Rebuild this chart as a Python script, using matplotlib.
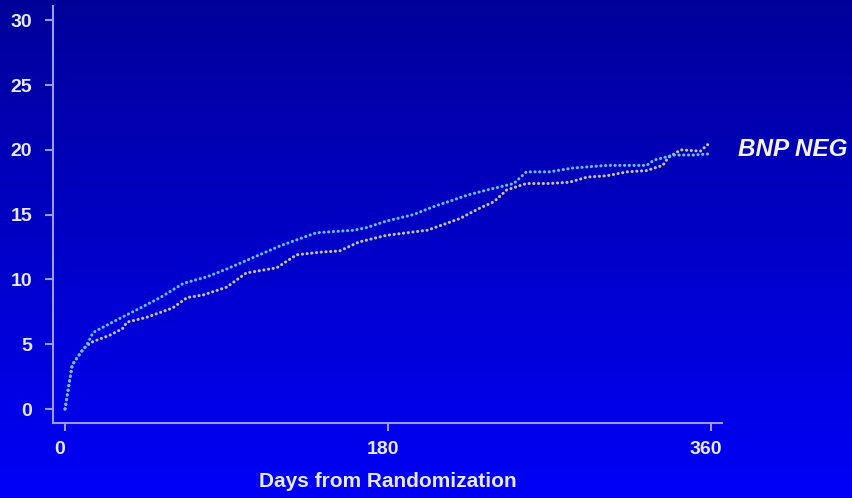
import numpy as np
import matplotlib
matplotlib.use("Agg")
import matplotlib.pyplot as plt
import matplotlib.transforms as mtransforms

plt.rcParams['font.family'] = ['Liberation Sans', 'DejaVu Sans']

# Cumulative event rate (%) by days from randomization
days_upper = [0, 4, 9.5, 12, 15.6, 21, 32, 42, 53, 66, 79, 90, 105, 120, 140, 161,
              168, 179, 194, 205, 224, 235, 250, 257, 270, 283, 302, 324, 328, 339, 350, 360]
rate_upper = [0, 3.4, 4.5, 4.9, 5.9, 6.3, 7.1, 7.8, 8.6, 9.7, 10.2, 10.8, 11.7, 12.6, 13.6, 13.8,
              14.0, 14.5, 15.0, 15.6, 16.5, 16.9, 17.4, 18.3, 18.3, 18.6, 18.8, 18.8, 19.2, 19.6, 19.6, 19.7]

days_lower = [0, 4, 9.5, 12, 15.6, 25, 32, 34.5, 46, 60, 68, 77, 90, 101, 118, 129, 142,
              153, 164, 179, 202, 220, 231, 239, 246, 257, 269, 281, 291, 302, 313, 324,
              333, 336, 343, 354, 358]
rate_lower = [0, 3.4, 4.5, 4.9, 5.2, 5.7, 6.2, 6.7, 7.1, 7.8, 8.6, 8.8, 9.4, 10.5, 10.9, 11.9, 12.1,
              12.2, 12.9, 13.4, 13.8, 14.7, 15.5, 16.0, 16.9, 17.4, 17.4, 17.5, 17.9, 18.0, 18.3, 18.4,
              18.8, 19.4, 20.0, 19.9, 20.4]

x_ticks = [0, 180, 360]
y_ticks = [0, 5, 10, 15, 20, 25, 30]

fig = plt.figure(figsize=(8.52, 4.98), dpi=100)

# vertical blue gradient background
bg = fig.add_axes([0, 0, 1, 1], zorder=-10)
grad = np.linspace(0, 1, 256).reshape(-1, 1)
top = np.array([0.0, 0.0, 0.60])
bottom = np.array([0.0, 0.0, 0.97])
img = top[None, None, :] * (1 - grad[:, :, None]) + bottom[None, None, :] * grad[:, :, None]
bg.imshow(img, aspect='auto', extent=[0, 1, 0, 1], origin='upper')
bg.axis('off')

ax = fig.add_axes([53 / 852, 1 - 423 / 498, (722 - 53) / 852, (423 - 6) / 498])
ax.patch.set_alpha(0)
ax.set_xlim(-6.7, 366)
ax.set_ylim(-1.08, 31.1)

axis_col = '#9a9aff'
text_col = '#e8e8ff'
for s in ['top', 'right']:
    ax.spines[s].set_visible(False)
for s in ['left', 'bottom']:
    ax.spines[s].set_color(axis_col)
    ax.spines[s].set_linewidth(1.5)

ax.set_xticks(x_ticks)
ax.set_yticks(y_ticks)
ax.set_xticklabels([str(v) for v in x_ticks])
ax.set_yticklabels([str(v) for v in y_ticks])
ax.tick_params(axis='both', colors=axis_col, labelcolor=text_col, length=6, width=1.5,
               labelsize=14, direction='out')
ax.tick_params(axis='y', pad=9)
ax.tick_params(axis='x', pad=7)
for lbl in ax.get_xticklabels() + ax.get_yticklabels():
    lbl.set_fontweight('bold')
shift = mtransforms.ScaledTranslation(-5 / 100, 0, fig.dpi_scale_trans)
for lbl in ax.get_xticklabels():
    lbl.set_transform(lbl.get_transform() + shift)

ax.set_xlabel('Days from Randomization', color=text_col, fontsize=15, fontweight='bold',
              labelpad=10)

dot = (0, (0.05, 1.5))
ax.plot(days_lower, rate_lower, color='#c8c2aa', lw=2.2, linestyle=dot,
        dash_capstyle='round', clip_on=False, zorder=3)
ax.plot(days_upper, rate_upper, color='#62c4ff', lw=2.2, linestyle=dot,
        dash_capstyle='round', clip_on=False, zorder=4)

fig.text(793 / 852, 1 - 150 / 498, 'BNP NEG', color='#f4f4ff', fontsize=17.5,
         fontweight='bold', fontstyle='italic', ha='center', va='center')

fig.savefig('out.png', dpi=100)
